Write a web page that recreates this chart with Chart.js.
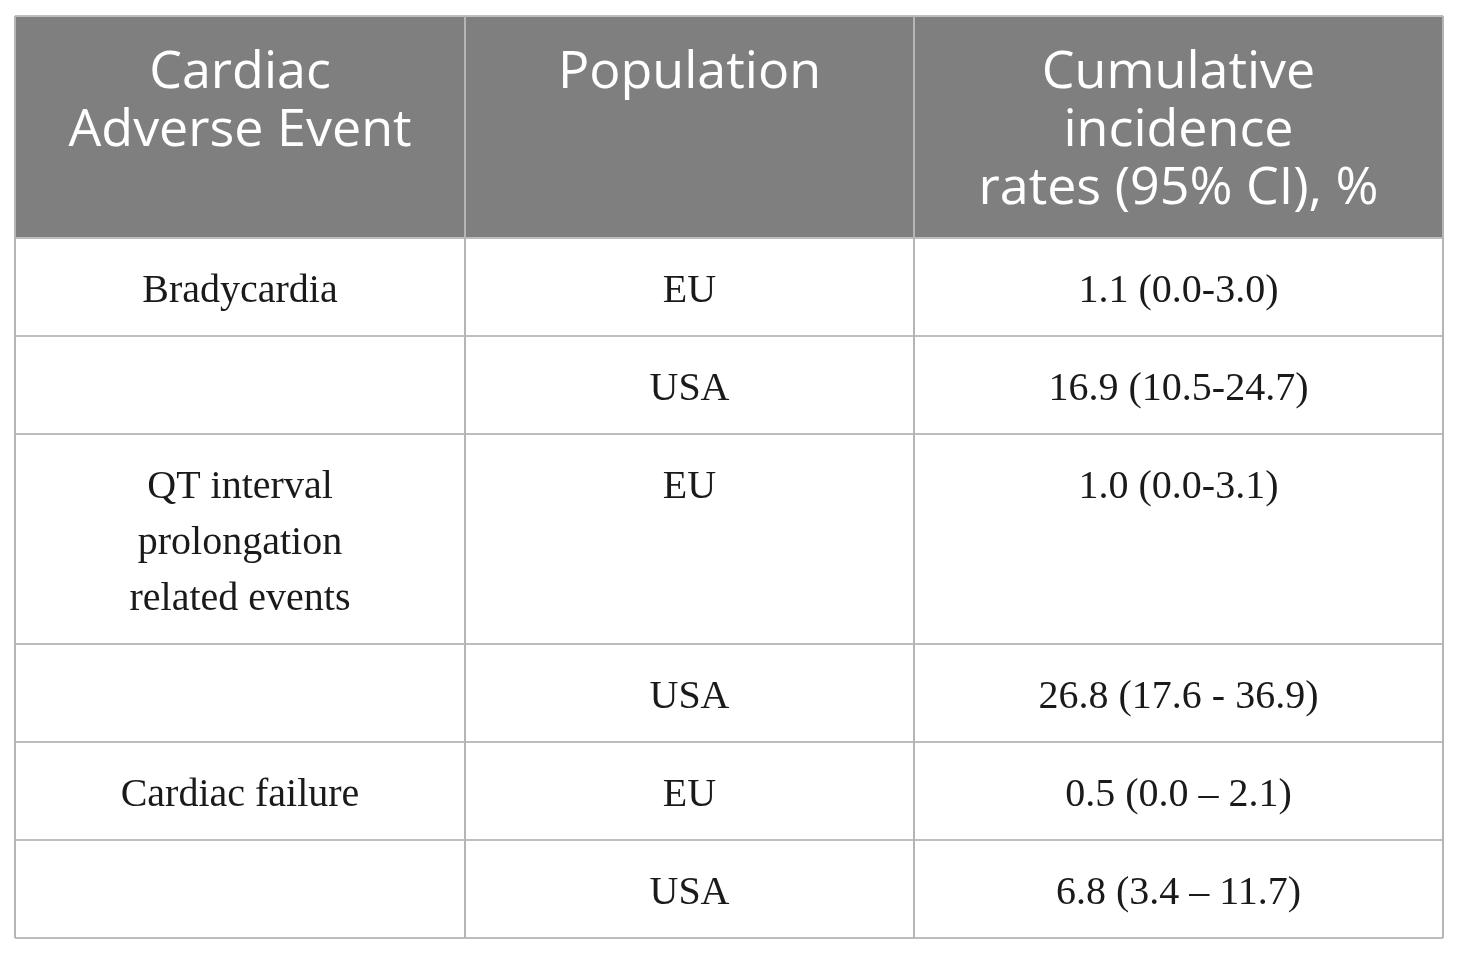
<!DOCTYPE html>
<html>
<head>
<meta charset="utf-8">
<script src="https://cdn.jsdelivr.net/npm/chart.js@4/dist/chart.umd.min.js"></script>
<style>
  html, body { margin: 0; padding: 0; background: #fff; }
  #table1 { display: block; }
</style>
</head>
<body>
<canvas id="table1" width="1460" height="954"></canvas>
<script>
// table content
const headers = ['Cardiac\nAdverse Event', 'Population', 'Cumulative\nincidence\nrates (95% CI), %'];
const events = ['Bradycardia', '', 'QT interval\nprolongation\nrelated events', '', 'Cardiac failure', ''];
const populations = ['EU', 'USA', 'EU', 'USA', 'EU', 'USA'];
const rates = ['1.1 (0.0-3.0)', '16.9 (10.5-24.7)', '1.0 (0.0-3.1)', '26.8 (17.6 - 36.9)', '0.5 (0.0 – 2.1)', '6.8 (3.4 – 11.7)'];

// layout (scale units = px)
const colWidth = [450, 449, 529];
const headH = 222;
const rowBase = 98, bodyLine = 56, headLine = 58;

const colEdge = [0];
colWidth.forEach(w => colEdge.push(colEdge[colEdge.length - 1] + w));
const rowEdge = [0, headH];
events.forEach((e, i) => {
    const n = Math.max(e.split('\n').length, populations[i].split('\n').length, rates[i].split('\n').length);
    rowEdge.push(rowEdge[rowEdge.length - 1] + rowBase + (n - 1) * bodyLine);
});

const tablePlugin = {
    id: 'tablePlugin',
    afterDraw(chart) {
        const ctx = chart.ctx;
        const x = chart.scales.x, y = chart.scales.y;
        const px = v => x.getPixelForValue(v);
        const py = v => y.getPixelForValue(v);
        const left = px(colEdge[0]), right = px(colEdge[3]);
        ctx.save();

        // header background
        ctx.fillStyle = '#7f7f7f';
        ctx.fillRect(left, py(0), right - left, py(headH) - py(0));

        // text
        ctx.textAlign = 'center';
        ctx.textBaseline = 'alphabetic';
        ctx.fillStyle = '#ffffff';
        ctx.font = '52px "Open Sans"';
        headers.forEach((h, c) => {
            const cx = (px(colEdge[c]) + px(colEdge[c + 1])) / 2;
            h.split('\n').forEach((line, k) => ctx.fillText(line, cx, py(0) + 72 + k * headLine));
        });

        ctx.fillStyle = '#1a1a1a';
        ctx.font = '40px "Liberation Serif"';
        const cols = [events, populations, rates];
        cols.forEach((col, c) => {
            const cx = (px(colEdge[c]) + px(colEdge[c + 1])) / 2;
            col.forEach((txt, r) => {
                const top = py(rowEdge[r + 1]);
                txt.split('\n').forEach((line, k) => ctx.fillText(line, cx, top + 64 + k * bodyLine));
            });
        });

        // grid lines
        ctx.lineWidth = 2;
        ctx.strokeStyle = '#bdbdbd';
        rowEdge.forEach(v => {
            ctx.beginPath();
            ctx.moveTo(left, py(v));
            ctx.lineTo(right, py(v));
            ctx.stroke();
        });
        ctx.strokeStyle = '#b5b5b5';
        colEdge.forEach((v, i) => {
            ctx.beginPath();
            ctx.moveTo(px(v), py(0));
            ctx.lineTo(px(v), py(rowEdge[rowEdge.length - 1]));
            ctx.stroke();
        });
        ctx.restore();
    }
};

new Chart(document.getElementById('table1').getContext('2d'), {
    type: 'scatter',
    data: { datasets: [{ data: [], pointRadius: 0 }] },
    options: {
        responsive: false,
        animation: false,
        devicePixelRatio: 1,
        layout: { padding: { left: 15, top: 16, right: 17, bottom: 16 } },
        plugins: { legend: { display: false }, tooltip: { enabled: false } },
        scales: {
            x: { type: 'linear', display: false, min: 0, max: colEdge[3] },
            y: { type: 'linear', display: false, min: 0, max: rowEdge[rowEdge.length - 1], reverse: true }
        }
    },
    plugins: [tablePlugin]
});
</script>
</body>
</html>
